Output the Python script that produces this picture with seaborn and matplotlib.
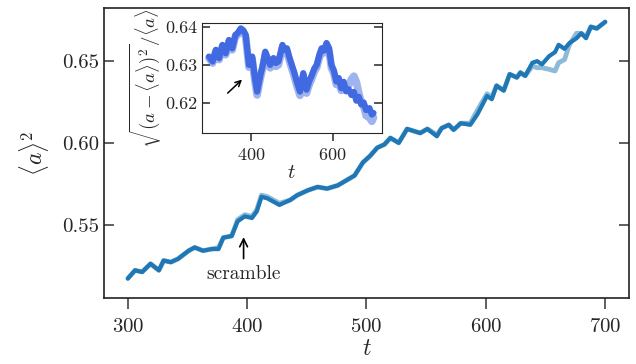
import matplotlib
matplotlib.use("Agg")
import matplotlib.pyplot as plt
import seaborn as sns

# main curve <a>^2 over t (two runs, nearly the same)
t_main = [300, 306, 312, 319, 326, 330, 336, 342, 351, 356, 363, 370, 376, 380,
          387, 392, 398, 404, 408, 412, 417, 427, 436, 442, 451, 459, 467, 476,
          483, 490, 497, 503, 509, 515, 520, 527, 534, 545, 551, 559, 563, 569,
          573, 579, 587, 593, 601, 605, 609, 615, 620, 626, 629, 633, 639, 643,
          647, 653, 658, 661, 666, 670, 676, 680, 684, 688, 693, 700]
a2_run1 = [0.517, 0.522, 0.521, 0.526, 0.522, 0.528, 0.527, 0.529, 0.534, 0.536,
           0.534, 0.535, 0.535, 0.542, 0.543, 0.552, 0.555, 0.554, 0.558, 0.567,
           0.566, 0.562, 0.565, 0.568, 0.571, 0.573, 0.572, 0.574, 0.577, 0.580,
           0.588, 0.592, 0.597, 0.599, 0.603, 0.600, 0.6085, 0.606, 0.6085, 0.604,
           0.609, 0.611, 0.608, 0.612, 0.611, 0.6175, 0.6287, 0.6267, 0.635, 0.632,
           0.642, 0.640, 0.643, 0.641, 0.649, 0.650, 0.648, 0.653, 0.6555, 0.660,
           0.6575, 0.661, 0.664, 0.667, 0.664, 0.671, 0.670, 0.674]
a2_run2 = [0.517, 0.522, 0.521, 0.526, 0.522, 0.528, 0.527, 0.529, 0.534, 0.536,
           0.534, 0.535, 0.536, 0.542, 0.543, 0.553, 0.556, 0.555, 0.559, 0.568,
           0.567, 0.563, 0.565, 0.568, 0.571, 0.573, 0.572, 0.574, 0.577, 0.580,
           0.588, 0.592, 0.597, 0.599, 0.603, 0.600, 0.6085, 0.606, 0.6085, 0.605,
           0.609, 0.611, 0.608, 0.612, 0.612, 0.620, 0.630, 0.628, 0.635, 0.632,
           0.642, 0.640, 0.643, 0.641, 0.647, 0.646, 0.646, 0.645, 0.644, 0.649,
           0.651, 0.660, 0.667, 0.667, 0.665, 0.671, 0.670, 0.674]

# inset: relative spread sqrt((a-<a>)^2)/<a>
t_in = [297, 306, 314, 322, 330, 338, 346, 354, 362, 368, 375, 381, 387, 395,
        403, 409, 415, 423, 429, 435, 441, 447, 455, 461, 467, 472, 477, 482,
        488, 494, 500, 506, 512, 520, 528, 536, 542, 549, 555, 561, 567, 573,
        579, 585, 591, 597, 603, 609, 615, 621, 627, 633, 639, 646, 652, 658,
        664, 670, 676, 682, 690, 696, 700]
spread_run1 = [0.6322, 0.6309, 0.6340, 0.6318, 0.6353, 0.6331, 0.6366, 0.6344,
               0.6380, 0.6385, 0.6397, 0.6392, 0.6380, 0.6300, 0.6322, 0.6270,
               0.6229, 0.6273, 0.6300, 0.6335, 0.6318, 0.6300, 0.6318, 0.6305,
               0.6309, 0.6330, 0.6353, 0.6340, 0.6344, 0.6320, 0.6300, 0.6280,
               0.6256, 0.6229, 0.6278, 0.6234, 0.6255, 0.6273, 0.6290, 0.6300,
               0.6325, 0.6344, 0.6338, 0.6358, 0.6345, 0.6300, 0.6285, 0.6256,
               0.6265, 0.6238, 0.6255, 0.6230, 0.6235, 0.6220, 0.6228, 0.6205,
               0.6215, 0.6195, 0.6200, 0.6180, 0.6185, 0.6168, 0.6172]
spread_run2 = [0.6318, 0.6305, 0.6336, 0.6314, 0.6349, 0.6327, 0.6362, 0.6340,
               0.6376, 0.6381, 0.6393, 0.6388, 0.6374, 0.6294, 0.6315, 0.6262,
               0.6220, 0.6265, 0.6293, 0.6328, 0.6311, 0.6292, 0.6310, 0.6296,
               0.6300, 0.6322, 0.6346, 0.6333, 0.6336, 0.6311, 0.6290, 0.6270,
               0.6246, 0.6219, 0.6268, 0.6225, 0.6246, 0.6264, 0.6282, 0.6293,
               0.6318, 0.6338, 0.6332, 0.6352, 0.6338, 0.6292, 0.6277, 0.6248,
               0.6258, 0.6232, 0.6248, 0.6232, 0.6245, 0.6262, 0.6270, 0.6255,
               0.6225, 0.6200, 0.6190, 0.6165, 0.6160, 0.6150, 0.6160]

sns.set_style("ticks")
plt.rcParams['font.family'] = 'serif'
plt.rcParams['font.serif'] = ['cmr10', 'DejaVu Serif']
plt.rcParams['mathtext.fontset'] = 'cm'
plt.rcParams['axes.formatter.use_mathtext'] = True

fig = plt.figure(figsize=(6.36, 3.64), dpi=100)
ax = fig.add_axes([0.1635, 0.181, 0.8255, 0.797])

sns.lineplot(x=t_main, y=a2_run2, ax=ax, color='#1f77b4', alpha=0.5, lw=3.5)
sns.lineplot(x=t_main, y=a2_run1, ax=ax, color='#1f77b4', lw=3)
ax.set_xlim(280, 720)
ax.set_ylim(0.505, 0.6825)
ax.set_xticks([300, 400, 500, 600, 700])
ax.set_yticks([0.55, 0.60, 0.65])
ax.set_yticklabels(['0.55', '0.60', '0.65'])
ax.tick_params(axis='x', direction='out', length=8, width=1.2, labelsize=15, pad=6, color='#444444')
ax.tick_params(axis='y', direction='in', length=7, width=1.2, labelsize=15, right=True, color='#444444')
ax.set_xlabel('$t$', fontsize=17, labelpad=2)
ax.set_ylabel(r'$\langle a\rangle^2$', fontsize=17, labelpad=8)
for s in ax.spines.values():
    s.set_linewidth(1.2)
    s.set_color('#222222')

ax.annotate('scramble', xy=(397, 0.5440), xytext=(397, 0.5200), ha='center', va='center',
            fontsize=14, arrowprops=dict(arrowstyle='->', color='k', lw=1.2))

# inset
ins = fig.add_axes([0.3176, 0.6346, 0.2825, 0.303])
sns.lineplot(x=t_in, y=spread_run2, ax=ins, color='royalblue', alpha=0.5, lw=5.5)
sns.lineplot(x=t_in, y=spread_run1, ax=ins, color='royalblue', lw=4.5)
ins.set_xlim(280, 720)
ins.set_ylim(0.6119, 0.6412)
ins.set_xticks([400, 600])
ins.set_yticks([0.62, 0.63, 0.64])
ins.set_yticklabels(['0.62', '0.63', '0.64'])
ins.tick_params(axis='x', direction='out', length=6, width=1.1, labelsize=13, pad=4)
ins.tick_params(axis='y', direction='in', length=6, width=1.1, labelsize=13, right=True)
ins.set_xlabel('$t$', fontsize=15, labelpad=1)
ins.set_ylabel(r'$\sqrt{(a-\langle a\rangle)^2}/\langle a\rangle$', fontsize=13.5, labelpad=1)
ins.annotate('', xy=(383, 0.6266), xytext=(338, 0.6220),
             arrowprops=dict(arrowstyle='->', color='k', lw=1.1))

fig.savefig('out.png', dpi=100)
